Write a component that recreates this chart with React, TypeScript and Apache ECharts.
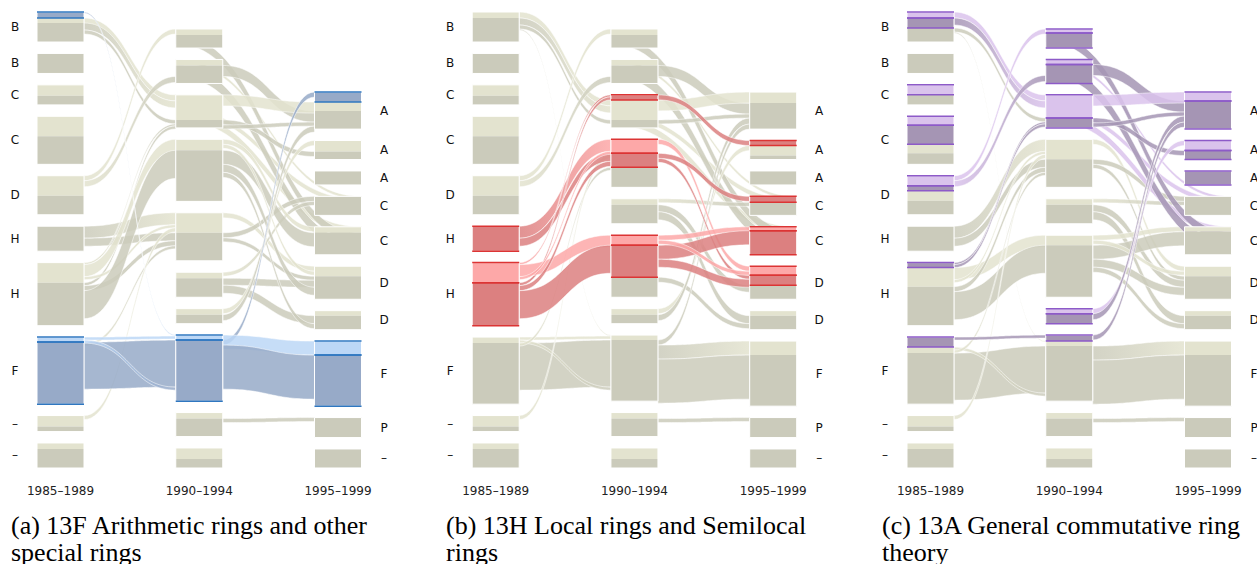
import React, { useEffect, useRef } from 'react';
import * as echarts from 'echarts';

// ---------- data ----------
const periods = ['1985–1989', '1990–1994', '1995–1999'];

const col1Ids = ['B1', 'B2', 'C1', 'C2', 'D', 'H1', 'H2', 'F', 'U1', 'U2'];
const col1Labels = ['B', 'B', 'C', 'C', 'D', 'H', 'H', 'F', '–', '–'];
const col2OrderA = ['n1', 'n2', 'n3', 'X62', 'X48', 'X24', 'n7', 'n8', 'n9', 'n10'];
const col2OrderBC = ['n1', 'n2', 'n3', 'X48', 'X24', 'X62', 'n7', 'n8', 'n9', 'n10'];
const col3Ids = ['A1', 'A2', 'A3', 'C1', 'C2', 'D1', 'D2', 'F3', 'P', 'U3'];
const col3Labels = ['A', 'A', 'A', 'C', 'C', 'D', 'D', 'F', 'P', '–'];

// node segments: l/d = plain light/dark, L/D = highlighted light/dark, number = size
const segA1 = ['D6 l5 d19', 'd20', 'l11 d9', 'l20 d28', 'l20 d19', 'd25', 'l20 d43', 'L5 D62', 'l11 d5', 'l6 d19'];
const segA2 = ['l6 d13', 'l6 d18', 'l25 d8', 'l11 d51', 'l20 d28', 'l6 d19', 'l6 d9', 'L5 D61', 'l6 d18', 'l11 d9'];
const segA3 = ['D10 l9 d18', 'l11 d8', 'd14', 'd19', 'l6 d22', 'l10 d23', 'l5 d14', 'L14 D51', 'd20', 'd19'];

const segB1 = ['l6 d24', 'd20', 'l11 d9', 'l20 d28', 'l20 d19', 'D25', 'L20 D43', 'l6 d61', 'l11 d5', 'l6 d19'];
const segB2 = ['l6 d13', 'l6 d18', 'D5 l20 d8', 'L14 D14 d20', 'l6 d19', 'L10 D32 d20', 'l6 d9', 'l5 d61', 'l6 d18', 'l11 d9'];
const segB3 = ['l11 d26', 'D5 l10 d4', 'd14', 'D6 d13', 'L4 D24', 'L9 D10 d14', 'l5 d14', 'l14 d51', 'd20', 'd19'];

const segC1 = ['L6 D10 d14', 'd20', 'L10 d10', 'L9 D19 l9 d11', 'L10 D5 l10 d14', 'd25', 'D5 l19 d39', 'D10 l6 d51', 'l11 d5', 'l6 d19'];
const segC2 = ['L4 D15', 'L5 D19', 'L23 D10', 'l20 d28', 'l6 d19', 'l10 d52', 'L5 D10', 'D6 l5 d55', 'l6 d18', 'l11 d9'];
const segC3 = ['L9 D28', 'L10 D9', 'D14', 'd19', 'l5 d23', 'l10 d23', 'l5 d14', 'l14 d51', 'd20', 'd19'];

// flows: source, target, size, tones (source side + target side)
const flows: [string, string, number, string][] = [
  ['B1', 'n3', 6, 'll'], ['B1', 'n3', 7, 'dl'], ['B1', 'n3', 4, 'dd'], ['B1', 'n8', 1, 'dl'],
  ['C1', 'n2', 3, 'll'], ['C1', 'n3', 5, 'll'], ['C2', 'n3', 7, 'll'], ['C2', 'n1', 9, 'dd'],
  ['C2', 'n2', 11, 'dd'], ['D', 'n1', 5, 'll'], ['D', 'n2', 6, 'ld'], ['H1', 'X48', 12, 'dl'],
  ['H1', 'X48', 8, 'dd'], ['H2', 'n3', 2, 'ld'], ['H2', 'n3', 3, 'dd'], ['H2', 'X62', 12, 'll'],
  ['H2', 'X48', 3, 'll'], ['H2', 'X48', 5, 'dd'], ['H2', 'X62', 28, 'dd'], ['F', 'n8', 3, 'll'],
  ['F', 'n8', 47, 'dd'], ['F', 'n8', 3, 'ld'], ['F', 'X48', 3, 'ld'], ['U1', 'X48', 4, 'll'],
  ['n2', 'A1', 11, 'dd'], ['n3', 'A1', 11, 'll'], ['n3', 'A2', 5, 'dd'], ['n3', 'A1', 4, 'dd'],
  ['X48', 'D1', 5, 'll'], ['X48', 'C1', 5, 'dd'], ['X48', 'D1', 4, 'dd'], ['X24', 'C1', 4, 'ld'],
  ['X24', 'D1', 7, 'dd'], ['X24', 'D2', 8, 'dd'], ['X62', 'C2', 5, 'll'], ['X62', 'C2', 14, 'dd'],
  ['X62', 'D1', 4, 'll'], ['X62', 'D1', 8, 'dd'], ['X62', 'D2', 5, 'dd'], ['n7', 'A2', 5, 'll'],
  ['n7', 'A1', 6, 'dd'], ['n8', 'A1', 5, 'dd'], ['n8', 'F3', 14, 'dl'], ['n8', 'F3', 44, 'dd'],
  ['n9', 'P', 4, 'dd'],
];

// highlighted flows per panel (index -> tones)
const hiA: Record<number, string> = { 3: 'DL', 19: 'LL', 20: 'DD', 21: 'LD', 41: 'DD', 42: 'LL', 43: 'DD' };
const hiB: Record<number, string> = {
  11: 'DL', 12: 'DD', 13: 'LD', 14: 'DD', 15: 'LL', 16: 'LL', 17: 'DD', 18: 'DD',
  26: 'DD', 28: 'LL', 29: 'DD', 30: 'DD', 34: 'LL', 35: 'DD', 36: 'LL', 37: 'DD',
};
const hiC: Record<number, string> = {
  0: 'LL', 1: 'DL', 4: 'LL', 5: 'LL', 6: 'LL', 7: 'DD', 8: 'DD', 9: 'LL', 10: 'LD',
  13: 'DD', 14: 'DD', 19: 'DD', 24: 'DD', 25: 'LL', 26: 'DD', 27: 'DD', 39: 'LL', 40: 'DD', 41: 'DD',
};

const captions = [
  ['(a) 13F Arithmetic rings and other', 'special rings'],
  ['(b) 13H Local rings and Semilocal', 'rings'],
  ['(c) 13A General commutative ring', 'theory'],
];

// ---------- styles ----------
const baseColors = { l: '#e3e3cf', d: '#cbcbbb' };
const palettes = [
  { L: '#bcd7f6', D: '#97aac8', line: '#2f77c0' },
  { L: '#fda8a8', D: '#dc8080', line: '#dc3434' },
  { L: '#dac3ec', D: '#a595b4', line: '#8d5ac8' },
];
const GAP = 11.4;
const HALF_W = 23.5;
const gridLefts = [60.5, 495.7, 930.5];
const GRID_W = 277.5;
const captionX = [11, 446, 882];
const TONES = ['l', 'd', 'L', 'D'];

const panels = [
  { order2: col2OrderA, segs: [segA1, segA2, segA3], hi: hiA },
  { order2: col2OrderBC, segs: [segB1, segB2, segB3], hi: hiB },
  { order2: col2OrderBC, segs: [segC1, segC2, segC3], hi: hiC },
];

function parseSegs(s: string) {
  return s.split(' ').map((t) => ({ tone: t[0], size: parseFloat(t.slice(1)) }));
}

function buildPanel(p: any) {
  const cols = [
    { ids: col1Ids, labels: col1Labels },
    { ids: p.order2, labels: p.order2.map(() => '') },
    { ids: col3Ids, labels: col3Labels },
  ];
  const extents = cols.map(
    (c, ci) =>
      p.segs[ci].reduce((a: number, s: string) => a + parseSegs(s).reduce((b, x) => b + x.size, 0), 0) +
      GAP * (c.ids.length - 1)
  );
  const yMax = Math.max(...extents);
  const nodes: Record<string, any> = {};
  const nodeList: any[] = [];
  cols.forEach((c, ci) => {
    let y = yMax - extents[ci];
    c.ids.forEach((id: string, k: number) => {
      const segs = parseSegs(p.segs[ci][k]);
      let yy = y;
      const s2 = segs.map((s) => {
        const o = { tone: s.tone, y0: yy, y1: yy + s.size };
        yy += s.size;
        return o;
      });
      const n = { id, col: ci, label: c.labels[k], y0: y, y1: yy, segs: s2, cur: {} as Record<string, number> };
      nodes[id] = n;
      nodeList.push(n);
      y = yy + GAP;
    });
  });
  const take = (node: any, tone: string, v: number, side: string) => {
    let idx = node.segs.findIndex((s: any) => s.tone === tone);
    if (idx < 0) idx = node.segs.findIndex((s: any) => s.tone.toLowerCase() === tone.toLowerCase());
    if (idx < 0) idx = 0;
    const key = side + idx;
    const c = node.cur[key] ?? node.segs[idx].y0;
    node.cur[key] = c + v;
    return [c, c + v];
  };
  const flowData: number[][] = [];
  flows.forEach((f, i) => {
    const tones = p.hi[i] ?? f[3];
    const s = nodes[f[0]];
    const t = nodes[f[1]];
    const a = take(s, tones[0], f[2], 'o');
    const b = take(t, tones[1], f[2], 'i');
    const hl = tones !== tones.toLowerCase() ? 1 : 0;
    flowData.push([s.col, a[0], a[1], t.col, b[0], b[1], TONES.indexOf(tones[0]), TONES.indexOf(tones[1]), hl]);
  });
  flowData.sort((x, y) => x[8] - y[8]);
  return { yMax, nodeList, flowData };
}

function bez(x0: number, y0: number, x1: number, y1: number, t: number) {
  const xm = (x0 + x1) / 2;
  const u = 1 - t;
  const x = u * u * u * x0 + 3 * u * u * t * xm + 3 * u * t * t * xm + t * t * t * x1;
  const w = 3 * u * t * t + t * t * t;
  return [x, y0 * (1 - w) + y1 * w];
}

export default function App() {
  const ref = useRef<HTMLDivElement>(null);
  useEffect(() => {
    if (!ref.current) return;
    const chart = echarts.init(ref.current, undefined, { renderer: 'svg' });
    const built = panels.map(buildPanel);
    const series: any[] = [];
    built.forEach((b, pi) => {
      const pal: any = palettes[pi];
      const col = (t: number) => [baseColors.l, baseColors.d, pal.L, pal.D][t];
      series.push({
        type: 'custom',
        xAxisIndex: pi,
        yAxisIndex: pi,
        clip: false,
        z: 2,
        silent: true,
        data: b.flowData,
        renderItem: (params: any, api: any) => {
          const a0 = api.coord([api.value(0), api.value(1)]);
          const a1 = api.coord([api.value(0), api.value(2)]);
          const b0 = api.coord([api.value(3), api.value(4)]);
          const b1 = api.coord([api.value(3), api.value(5)]);
          const x0 = a0[0] + HALF_W;
          const x1 = b0[0] - HALF_W;
          const pts: number[][] = [];
          const N = 36;
          for (let i = 0; i <= N; i++) pts.push(bez(x0, a0[1], x1, b0[1], i / N));
          for (let i = N; i >= 0; i--) pts.push(bez(x0, a1[1], x1, b1[1], i / N));
          const st = api.value(6);
          const tt = api.value(7);
          const c0 = col(st);
          const c1 = col(tt);
          const fill =
            st === tt
              ? c0
              : new echarts.graphic.LinearGradient(x0, 0, x1, 0, [
                  { offset: 0, color: c0 },
                  { offset: 1, color: c1 },
                ], true);
          return {
            type: 'polygon',
            shape: { points: pts },
            style: { fill, stroke: '#ffffff', lineWidth: 0.6, opacity: 0.85 },
          };
        },
      });
      series.push({
        type: 'custom',
        xAxisIndex: pi,
        yAxisIndex: pi,
        clip: false,
        z: 3,
        silent: true,
        data: b.nodeList.map((n: any) => [n.col, n.y0, n.y1]),
        renderItem: (params: any, api: any) => {
          const n = b.nodeList[params.dataIndex];
          const top = api.coord([n.col, n.y0]);
          const bot = api.coord([n.col, n.y1]);
          const cx = top[0];
          const children: any[] = [];
          n.segs.forEach((s: any) => {
            const p0 = api.coord([n.col, s.y0]);
            const p1 = api.coord([n.col, s.y1]);
            children.push({
              type: 'rect',
              shape: { x: cx - HALF_W, y: p0[1], width: 2 * HALF_W, height: p1[1] - p0[1] },
              style: { fill: col(TONES.indexOf(s.tone)) },
            });
          });
          children.push({
            type: 'rect',
            shape: { x: cx - HALF_W, y: top[1], width: 2 * HALF_W, height: bot[1] - top[1] },
            style: { fill: 'none', stroke: '#ffffff', lineWidth: 1 },
          });
          n.segs.forEach((s: any) => {
            if (s.tone === 'L' || s.tone === 'D') {
              [s.y0, s.y1].forEach((yv: number) => {
                const p = api.coord([n.col, yv]);
                children.push({
                  type: 'line',
                  shape: { x1: cx - HALF_W, y1: p[1], x2: cx + HALF_W, y2: p[1] },
                  style: { stroke: pal.line, lineWidth: 1.5 },
                });
              });
            }
          });
          if (n.label) {
            children.push({
              type: 'text',
              x: cx + (n.col === 0 ? -45.5 : 46),
              y: (top[1] + bot[1]) / 2,
              style: {
                text: n.label,
                font: '12px "DejaVu Sans"',
                fill: '#111',
                align: 'center',
                verticalAlign: 'middle',
              },
            });
          }
          return { type: 'group', children };
        },
      });
    });

    const graphic: any[] = [];
    captions.forEach((lines, i) => {
      lines.forEach((t, j) => {
        graphic.push({
          type: 'text',
          x: captionX[i],
          y: 525 + j * 27,
          silent: true,
          style: {
            text: t,
            font: '26px "Liberation Serif"',
            lineHeight: 25,
            fill: '#000',
            align: 'left',
            verticalAlign: 'middle',
          },
        });
      });
    });

    const yMax = built[0].yMax;
    chart.setOption({
      animation: false,
      grid: panels.map((_, i) => ({
        left: gridLefts[i],
        width: GRID_W,
        top: 12,
        height: 456,
        containLabel: false,
        outerBoundsMode: 'none',
      })),
      xAxis: panels.map((_, i) => ({
        type: 'category',
        gridIndex: i,
        data: periods,
        boundaryGap: false,
        axisLine: { show: false },
        axisTick: { show: false },
        splitLine: { show: false },
        axisLabel: { margin: 17, fontSize: 12, fontFamily: 'DejaVu Sans', color: '#222', interval: 0 },
      })),
      yAxis: panels.map((_, i) => ({
        type: 'value',
        gridIndex: i,
        min: 0,
        max: yMax,
        inverse: true,
        show: false,
      })),
      series,
      graphic,
    });
    return () => chart.dispose();
  }, []);
  return (
    <div
      ref={ref}
      style={{ position: 'fixed', left: 0, top: 0, width: 1257, height: 564, background: '#fff' }}
    />
  );
}
